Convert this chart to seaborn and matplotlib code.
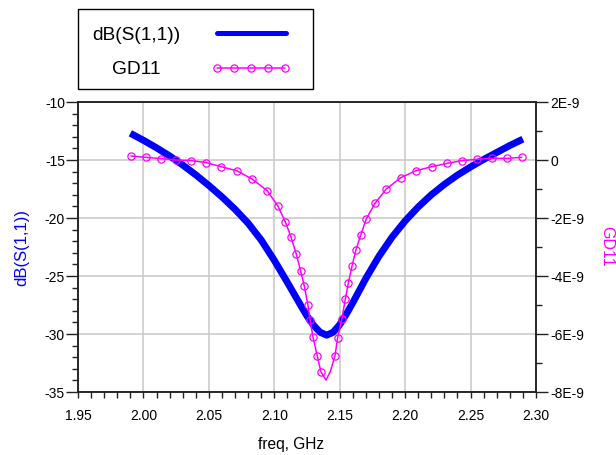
import numpy as np
import pandas as pd
import matplotlib
matplotlib.use("Agg")
import matplotlib.pyplot as plt
import seaborn as sns
from matplotlib.patches import Rectangle
from matplotlib.lines import Line2D
from matplotlib.ticker import MultipleLocator, FuncFormatter

# ---------------- data ----------------
freq_s11 = [1.99, 2.00, 2.01, 2.02, 2.03, 2.04, 2.05, 2.06, 2.07, 2.08,
            2.09, 2.10, 2.11, 2.12, 2.125, 2.13, 2.135, 2.14, 2.145, 2.15,
            2.155, 2.16, 2.165, 2.17, 2.18, 2.19, 2.20, 2.21, 2.22, 2.23,
            2.24, 2.25, 2.26, 2.27, 2.28, 2.29]
db_s11 = [-12.7, -13.3, -13.95, -14.65, -15.43, -16.28, -17.2, -18.18, -19.25, -20.45,
          -21.9, -23.65, -25.55, -27.5, -28.45, -29.25, -29.85, -30.1, -29.85, -29.2,
          -28.3, -27.3, -26.25, -25.2, -23.3, -21.65, -20.25, -19.05, -18.0, -17.1,
          -16.3, -15.6, -14.95, -14.35, -13.75, -13.2]

freq_gd = [1.9905, 2.0017, 2.0135, 2.0249, 2.0364, 2.0479, 2.0593, 2.0713, 2.0832, 2.0946,
           2.1028, 2.1084, 2.1127, 2.1168, 2.1201, 2.1229, 2.1257, 2.1274, 2.1295, 2.1328,
           2.1356, 2.1395, 2.1428, 2.1464, 2.1484, 2.1517, 2.1543, 2.1566, 2.1595, 2.1624,
           2.1662, 2.1704, 2.1770, 2.1854, 2.1966, 2.2083, 2.2203, 2.2322, 2.2432, 2.2547,
           2.2666, 2.2781, 2.2891]
gd11_ns = [0.14, 0.09, 0.05, 0.00, -0.02, -0.09, -0.23, -0.37, -0.66, -1.06,
           -1.59, -2.13, -2.64, -3.24, -3.82, -4.34, -5.00, -5.52, -6.09, -6.75,
           -7.30, -7.59, -7.30, -6.75, -6.13, -5.48, -4.79, -4.25, -3.64, -3.10,
           -2.57, -2.02, -1.49, -1.01, -0.61, -0.37, -0.23, -0.115, -0.023, 0.023,
           0.057, 0.057, 0.093]
gd_no_symbol = [21, 22]   # trace vertices near the dip without a symbol

x_ticks = [1.95, 2.00, 2.05, 2.10, 2.15, 2.20, 2.25, 2.30]
left_ticks = [-35, -30, -25, -20, -15, -10]
right_ticks_ns = [-8, -6, -4, -2, 0, 2]

label_s11 = "dB(S(1,1))"
label_gd = "GD11"
xlabel = "freq, GHz"

BLUE = "#0000ff"
MAG = "#ff00ff"
GRID = "#c8c8c8"
SPINE = "#222222"

# ---------------- style ----------------
sns.set_theme(style="white")
plt.rcParams['font.family'] = ['Liberation Sans', 'DejaVu Sans']

W, H = 616, 455
fig = plt.figure(figsize=(W / 100, H / 100), dpi=100)
ax = fig.add_axes([78 / W, 1 - 392 / H, (536 - 78) / W, (392 - 102) / H])

df_s11 = pd.DataFrame({"freq": freq_s11, "db": db_s11})
df_gd = pd.DataFrame({"freq": freq_gd, "gd": np.array(gd11_ns) * 1e-9})

sns.lineplot(data=df_s11, x="freq", y="db", ax=ax, color=BLUE, lw=5.0,
             solid_capstyle="butt", solid_joinstyle="round", zorder=3)

ax.set_xlim(1.95, 2.30)
ax.set_ylim(-35, -10)
ax.set_xticks(x_ticks)
ax.xaxis.set_minor_locator(MultipleLocator(0.01))
ax.set_yticks(left_ticks)
ax.yaxis.set_minor_locator(MultipleLocator(1))
ax.xaxis.set_major_formatter(FuncFormatter(lambda v, p: f"{v:.2f}"))
ax.yaxis.set_major_formatter(FuncFormatter(lambda v, p: f"{v:.0f}"))
ax.grid(True, which="major", color=GRID, lw=1.1)
ax.set_axisbelow(True)
ax.set_xlabel("")
ax.set_ylabel("")

ax.tick_params(axis="x", which="both", direction="out", length=4, width=1.0,
               color=SPINE, labelsize=10, pad=8.5, labelcolor="black",
               bottom=True, top=False)
ax.tick_params(axis="y", which="major", direction="out", length=8.6, width=1.0,
               color=SPINE, labelsize=10, pad=0.8, labelcolor="black",
               left=True, right=False)
ax.tick_params(axis="y", which="minor", direction="out", length=4.6, width=1.0,
               color=SPINE, left=True, right=False)
for s in ax.spines.values():
    s.set_color(SPINE)
    s.set_linewidth(1.1)
    s.set_visible(True)

ax2 = ax.twinx()
marker_idx = [i for i in range(len(freq_gd)) if i not in gd_no_symbol]
sns.lineplot(data=df_gd, x="freq", y="gd", ax=ax2, color=MAG, lw=1.1,
             marker="o", markevery=marker_idx, markerfacecolor="none",
             markeredgecolor=MAG, markeredgewidth=0.9, markersize=5.2, zorder=4)
ax2.set_ylim(-8e-9, 2e-9)
ax2.set_yticks([v * 1e-9 for v in right_ticks_ns])
ax2.yaxis.set_minor_locator(MultipleLocator(1e-9))
ax2.yaxis.set_major_formatter(
    FuncFormatter(lambda v, p: "0" if abs(v) < 1e-13 else f"{v * 1e9:.0f}E-9"))
ax2.grid(False)
ax2.set_xlabel("")
ax2.set_ylabel("")
ax2.tick_params(axis="y", which="major", direction="out", length=8.6, width=1.0,
                color=SPINE, labelsize=10, pad=1.5, labelcolor="black",
                right=True, left=False)
ax2.tick_params(axis="y", which="minor", direction="out", length=4.6, width=1.0,
                color=SPINE, right=True, left=False)
for s in ax2.spines.values():
    s.set_color(SPINE)
    s.set_linewidth(1.1)

# ---------------- axis labels ----------------
fig.text(291.5 / W, 1 - 445 / H, xlabel, ha="center", va="center",
         fontsize=11.2, color="black")
fig.text(21.5 / W, 1 - 247 / H, label_s11, ha="center", va="center",
         rotation=90, fontsize=12, color=BLUE)
fig.text(607 / W, 1 - 246 / H, label_gd, ha="center", va="center",
         rotation=-90, fontsize=11.5, color=MAG)

# ---------------- legend box ----------------
fig.add_artist(Rectangle((78 / W, 1 - 89 / H), 235 / W, 80 / H,
                         transform=fig.transFigure, fill=False,
                         edgecolor="black", lw=1.0))
fig.text(136.5 / W, 1 - 39.5 / H, label_s11, ha="center", va="baseline",
         fontsize=13.8, color="black")
fig.text(136.5 / W, 1 - 74 / H, label_gd, ha="center", va="baseline",
         fontsize=13.8, color="black")
fig.add_artist(Line2D([217 / W, 286 / W], [1 - 32.5 / H, 1 - 32.5 / H],
                      transform=fig.transFigure, color=BLUE, lw=3.6,
                      solid_capstyle="round"))
fig.add_artist(Line2D(np.linspace(217.3 / W, 285 / W, 5), [1 - 68.3 / H] * 5,
                      transform=fig.transFigure, color=MAG, lw=1.1,
                      marker="o", markerfacecolor="none", markeredgecolor=MAG,
                      markeredgewidth=0.9, markersize=5.2))

fig.savefig("out.png", dpi=100)
